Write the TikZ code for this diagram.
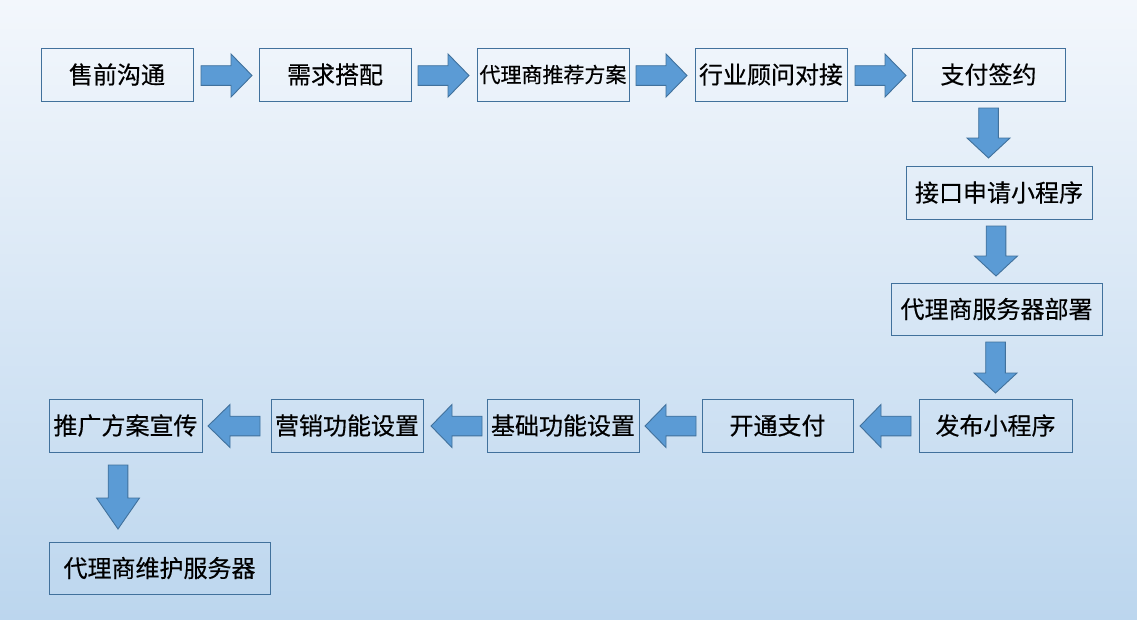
\documentclass[tikz,border=0pt]{standalone}
\usepackage{fontspec}
\newfontfamily\cjk[FakeBold=0.4]{Noto Sans CJK SC}
\definecolor{bgtop}{HTML}{F3F7FC}
\definecolor{bgbot}{HTML}{BCD6EE}
\definecolor{boxc}{HTML}{41719C}
\definecolor{arrfill}{HTML}{5B9BD5}
\definecolor{arrline}{HTML}{41719C}
\newcommand\blockarr[5]{% name, tail coordinate, rotation, length, head length
  \draw[blk, shift={(#2)}, rotate=#3] (0,-9.8) -- (#4-#5,-9.8) -- (#4-#5,-21.5) -- (#4,0)
    -- (#4-#5,21.5) -- (#4-#5,9.8) -- (0,9.8) -- cycle;
  \coordinate (#1) at (#2);}
\begin{document}
\begin{tikzpicture}[x=1pt,y=-1pt,
  box/.style={draw=boxc, line width=0.9pt, inner sep=0pt, minimum height=53pt,
    font=\cjk\fontsize{24}{24}\selectfont, text=black},
  blk/.style={fill=arrfill, draw=arrline, line width=0.9pt, line join=miter}]
\shade[top color=bgtop, bottom color=bgbot] (0,0) rectangle (1137,619);
\useasboundingbox (0,0) rectangle (1137,619);
% row 1
\node[box, minimum width=152pt] (b1) at (117,74.5) {售前沟通};
\node[box, minimum width=152pt] (b2) at (335,74.5) {需求搭配};
\node[box, minimum width=152pt, font=\cjk\fontsize{21}{21}\selectfont] (b3) at (553,74.5) {代理商推荐方案};
\node[box, minimum width=152pt] (b4) at (771,74.5) {行业顾问对接};
\node[box, minimum width=153pt] (b5) at (988.5,74.5) {支付签约};
% right column
\node[box, minimum width=186pt] (b6) at (999,192.5) {接口申请小程序};
\node[box, minimum width=211pt, minimum height=52pt] (b7) at (996.5,309) {代理商服务器部署};
\node[box, minimum width=153pt] (b8) at (995.5,425.5) {发布小程序};
% row 3
\node[box, minimum width=151pt] (b9) at (777.5,425.5) {开通支付};
\node[box, minimum width=152pt] (b10) at (563,425.5) {基础功能设置};
\node[box, minimum width=152pt] (b11) at (347,425.5) {营销功能设置};
\node[box, minimum width=153pt] (b12) at (125.5,425.5) {推广方案宣传};
\node[box, minimum width=221pt, minimum height=52pt] (b13) at (159.5,568) {代理商维护服务器};
% block arrows
\blockarr{a1}{201,75.5}{0}{51}{21}
\blockarr{a2}{418,75.5}{0}{51}{21}
\blockarr{a3}{636,75.5}{0}{51}{21}
\blockarr{a4}{855,75.5}{0}{51}{21}
\blockarr{a5}{988.5,108}{-90}{50}{20}
\blockarr{a6}{996,226}{-90}{50}{20}
\blockarr{a7}{995.5,342}{-90}{51}{20}
\blockarr{a8}{911,426}{180}{51}{21}
\blockarr{a9}{696,426}{180}{51}{21}
\blockarr{a10}{482,426}{180}{51}{21}
\blockarr{a11}{260,426}{180}{52}{22}
\blockarr{a12}{118,465}{-90}{64}{31}
\end{tikzpicture}
\end{document}
